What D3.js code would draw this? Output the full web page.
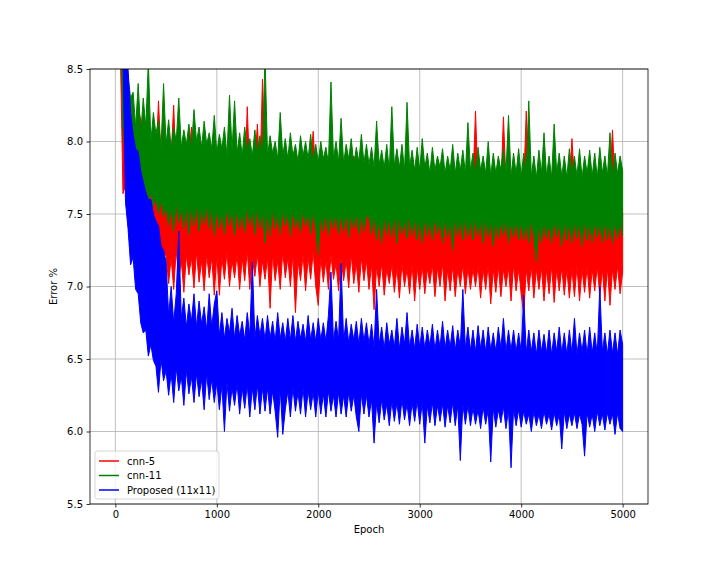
<!DOCTYPE html>
<html>
<head>
<meta charset="utf-8">
<script src="https://cdn.jsdelivr.net/npm/d3@7/dist/d3.min.js"></script>
<style>
  body { margin: 0; background: #fff; }
  svg { font-family: "DejaVu Sans", sans-serif; }
</style>
</head>
<body>
<div id="chart"></div>
<script>
// the curves are very noisy: for every 25 epochs (0, 25, ... 5000) the
// lowest and highest value of each curve is read off the picture
var epochStep = 25;

var cnn5Low = [
    9.5, 9.0, 8.6, 7.64, 7.7, 7.45, 7.22, 7.3, 7.18, 7.25, 7.12, 7.22, 7.1, 7.2, 7.05, 7.2, 7.1, 7.18, 7.0, 7.2,
    7.22, 7.02, 7.2, 6.98, 7.25, 7.05, 7.18, 6.96, 7.22, 7.08, 7.2, 6.99, 7.24, 7.03, 7.18, 6.97, 7.22, 7.06, 7.2, 6.94,
    7.22, 6.94, 7.2, 7.05, 7.24, 7.0, 7.18, 7.06, 7.22, 6.98, 7.2, 7.04, 7.25, 6.98, 7.2, 7.07, 7.22, 7.0, 7.18, 7.05,
    7.2, 6.85, 7.22, 7.04, 7.18, 6.98, 7.24, 7.06, 7.2, 7.0, 7.22, 6.82, 7.18, 7.04, 7.22, 6.97, 7.2, 7.05, 7.24, 7.0,
    6.87, 7.2, 7.03, 7.18, 6.98, 7.22, 7.05, 7.16, 6.97, 7.2, 7.04, 7.18, 6.99, 7.22, 7.02, 7.16, 6.96, 7.2, 7.04, 7.18,
    6.98, 7.15, 6.84, 7.14, 7.0, 7.16, 6.94, 7.12, 7.02, 7.15, 6.96, 7.13, 6.92, 7.16, 7.0, 7.12, 6.95, 7.15, 6.9, 7.13,
    6.98, 7.14, 6.95, 7.12, 7.02, 7.15, 6.93, 7.13, 7.0, 7.16, 6.9, 7.12, 6.97, 7.14, 6.93, 7.12, 7.0, 7.15, 6.95, 7.13,
    6.98, 7.12, 7.0, 7.14, 6.92, 7.12, 6.98, 7.15, 6.88, 7.12, 6.96, 7.14, 6.93, 7.12, 7.0, 7.13, 6.9, 7.15, 6.97, 7.12,
    6.95, 6.81, 7.12, 6.97, 7.14, 6.92, 7.12, 6.98, 7.13, 6.9, 7.12, 6.95, 7.14, 6.89, 7.12, 6.97, 7.13, 6.94, 7.12, 6.92,
    7.12, 6.93, 7.14, 6.9, 7.12, 6.96, 7.13, 6.92, 7.12, 6.97, 7.14, 6.93, 7.12, 6.9, 7.13, 6.87, 7.12, 6.98, 7.14, 6.95,
    7.1
];
var cnn5High = [
    10.0, 9.5, 9.0, 8.3, 8.6, 8.25, 8.2, 8.1, 8.0, 8.22, 8.15, 8.0, 7.95, 8.05, 7.9, 8.0, 7.85, 8.28, 7.9, 7.85,
    7.85, 7.8, 7.9, 8.25, 7.75, 7.85, 7.8, 7.9, 7.7, 7.85, 8.1, 7.75, 7.8, 7.7, 7.85, 7.75, 7.8, 7.9, 7.7, 7.8,
    7.75, 7.8, 7.7, 7.85, 7.75, 7.95, 7.8, 7.7, 7.75, 7.85, 7.8, 7.7, 8.24, 7.75, 7.8, 7.85, 8.12, 7.75, 8.43, 7.8,
    7.8, 7.7, 7.85, 7.75, 7.9, 7.8, 7.7, 7.85, 7.75, 7.8, 7.9, 7.7, 7.8, 7.75, 7.85, 7.8, 7.7, 7.85, 8.07, 7.75,
    7.75, 7.8, 7.7, 7.85, 7.75, 7.8, 7.9, 7.7, 7.8, 7.75, 7.85, 7.7, 7.8, 7.75, 7.9, 7.8, 7.7, 7.85, 7.75, 7.8,
    7.7, 7.72, 7.68, 7.75, 7.7, 7.72, 7.68, 7.75, 7.72, 7.7, 7.75, 7.68, 7.72, 7.7, 7.75, 7.68, 7.72, 7.7, 7.75, 7.68,
    7.72, 7.68, 7.75, 7.7, 7.72, 7.68, 7.75, 7.7, 7.72, 7.75, 7.68, 7.7, 7.72, 7.75, 7.68, 7.72, 7.7, 7.75, 7.68, 7.72,
    7.7, 7.72, 8.21, 7.68, 7.75, 7.7, 7.72, 7.68, 7.75, 7.7, 7.72, 7.75, 7.68, 8.17, 7.72, 7.7, 7.75, 7.68, 7.72, 7.7,
    7.72, 7.7, 8.21, 7.68, 7.75, 7.72, 7.7, 7.75, 7.68, 7.72, 7.7, 7.75, 7.72, 7.68, 7.75, 7.7, 7.72, 7.68, 7.75, 7.7,
    8.02, 7.72, 7.68, 7.75, 7.7, 7.72, 7.68, 7.75, 7.7, 7.72, 7.68, 7.75, 7.7, 7.72, 7.68, 7.75, 8.08, 7.7, 7.72, 7.68,
    7.5
];

var cnn11Low = [
    9.8, 9.4, 8.9, 8.1, 7.85, 7.75, 7.7, 7.65, 7.72, 7.62, 7.7, 7.6, 7.68, 7.58, 7.65, 7.55, 7.62, 7.5, 7.6, 7.48,
    7.56, 7.42, 7.55, 7.38, 7.58, 7.44, 7.54, 7.4, 7.56, 7.36, 7.55, 7.42, 7.57, 7.38, 7.54, 7.43, 7.56, 7.4, 7.55, 7.35,
    7.54, 7.4, 7.52, 7.36, 7.55, 7.42, 7.53, 7.35, 7.54, 7.4, 7.52, 7.37, 7.55, 7.42, 7.53, 7.36, 7.54, 7.4, 7.52, 7.3,
    7.52, 7.35, 7.54, 7.4, 7.5, 7.36, 7.53, 7.42, 7.51, 7.35, 7.54, 7.4, 7.5, 7.37, 7.53, 7.42, 7.51, 7.36, 7.52, 7.4,
    7.22, 7.5, 7.38, 7.52, 7.35, 7.5, 7.4, 7.51, 7.36, 7.5, 7.38, 7.52, 7.34, 7.5, 7.4, 7.51, 7.36, 7.5, 7.38, 7.49,
    7.48, 7.36, 7.5, 7.32, 7.47, 7.3, 7.49, 7.36, 7.47, 7.34, 7.5, 7.3, 7.48, 7.36, 7.47, 7.33, 7.49, 7.35, 7.47, 7.32,
    7.47, 7.3, 7.48, 7.35, 7.46, 7.32, 7.48, 7.36, 7.46, 7.3, 7.47, 7.34, 7.46, 7.25, 7.48, 7.35, 7.46, 7.32, 7.47, 7.34,
    7.46, 7.32, 7.47, 7.35, 7.45, 7.3, 7.47, 7.34, 7.45, 7.28, 7.46, 7.33, 7.45, 7.35, 7.47, 7.3, 7.45, 7.34, 7.46, 7.32,
    7.45, 7.32, 7.44, 7.3, 7.46, 7.34, 7.17, 7.44, 7.3, 7.45, 7.33, 7.44, 7.3, 7.46, 7.34, 7.44, 7.28, 7.45, 7.32, 7.44,
    7.3, 7.45, 7.33, 7.44, 7.28, 7.46, 7.32, 7.44, 7.3, 7.45, 7.34, 7.44, 7.3, 7.46, 7.32, 7.44, 7.3, 7.45, 7.33, 7.44,
    7.35
];
var cnn11High = [
    10.8, 10.2, 9.5, 8.9, 8.6, 8.45, 8.3, 8.34, 8.1, 8.4, 8.05, 8.3, 8.1, 8.55, 8.0, 8.2, 8.05, 8.15, 7.95, 8.4,
    7.98, 8.15, 7.95, 8.1, 8.0, 8.3, 7.96, 8.08, 7.98, 8.12, 7.95, 8.22, 8.0, 8.1, 7.96, 8.14, 7.98, 8.06, 7.95, 8.18,
    7.92, 8.05, 7.95, 8.1, 7.9, 8.32, 7.94, 8.28, 7.92, 8.06, 7.9, 8.1, 7.94, 8.02, 7.9, 8.08, 7.92, 8.04, 7.9, 8.6,
    7.9, 8.04, 7.92, 8.0, 7.88, 8.2, 7.9, 8.02, 7.88, 8.06, 7.9, 7.98, 7.86, 8.04, 7.9, 8.0, 7.88, 8.05, 7.86, 7.98,
    7.86, 8.0, 7.88, 7.96, 7.85, 8.41, 7.88, 8.0, 7.86, 8.16, 7.85, 7.98, 7.88, 8.02, 7.84, 7.96, 7.86, 8.05, 7.85, 7.98,
    7.84, 7.96, 7.82, 8.14, 7.84, 7.94, 7.82, 7.98, 7.8, 8.24, 7.83, 7.95, 7.82, 7.98, 7.8, 8.27, 7.82, 7.94, 7.8, 7.96,
    7.8, 8.02, 7.82, 7.92, 7.78, 7.96, 7.8, 7.9, 7.82, 7.95, 7.78, 7.9, 7.8, 7.98, 7.78, 7.92, 7.8, 7.94, 7.78, 8.13,
    7.8, 7.92, 7.78, 7.96, 7.8, 7.9, 7.78, 8.0, 7.76, 7.92, 7.78, 7.9, 7.8, 7.95, 7.78, 8.18, 7.76, 7.92, 7.78, 7.95,
    7.76, 7.92, 7.78, 8.28, 7.76, 7.9, 7.75, 7.94, 7.78, 8.06, 7.76, 7.9, 7.75, 8.12, 7.78, 7.92, 7.76, 7.9, 7.75, 7.95,
    7.78, 7.9, 7.76, 7.95, 7.75, 7.9, 7.78, 7.94, 7.76, 7.92, 7.75, 7.96, 7.78, 7.9, 7.76, 8.06, 7.75, 7.92, 7.78, 7.9,
    7.8
];

var proposedLow = [
    10.0, 9.5, 9.0, 8.6, 7.58, 7.4, 7.15, 7.2, 6.98, 6.95, 6.75, 6.68, 6.7, 6.52, 6.6, 6.49, 6.45, 6.27, 6.5, 6.35,
    6.42, 6.25, 6.4, 6.2, 6.44, 6.28, 6.38, 6.18, 6.42, 6.26, 6.38, 6.2, 6.4, 6.24, 6.36, 6.15, 6.4, 6.22, 6.36, 6.2,
    6.34, 6.15, 6.32, 6.0, 6.34, 6.14, 6.3, 6.18, 6.33, 6.12, 6.3, 6.16, 6.32, 6.1, 6.3, 6.15, 6.32, 6.12, 6.3, 6.14,
    6.3, 6.12, 6.28, 6.14, 5.96, 6.3, 5.98, 6.15, 6.28, 6.1, 6.3, 6.14, 6.27, 6.12, 6.3, 6.1, 6.28, 6.15, 6.27, 6.1,
    6.28, 6.12, 6.26, 6.1, 6.28, 6.14, 6.25, 6.1, 6.27, 6.12, 6.25, 6.1, 6.27, 6.14, 6.25, 6.1, 6.0, 6.26, 6.12, 6.25,
    6.1, 6.22, 5.92, 6.2, 6.06, 6.22, 6.08, 6.19, 6.04, 6.21, 6.07, 6.2, 6.05, 6.22, 6.08, 6.19, 6.04, 6.2, 6.07, 6.21,
    6.05, 6.2, 5.92, 6.18, 6.06, 6.2, 6.04, 6.18, 6.07, 6.19, 6.03, 6.18, 6.06, 6.2, 6.04, 6.18, 5.8, 6.19, 6.05, 6.18,
    6.04, 6.16, 6.05, 6.15, 6.02, 6.17, 6.05, 6.15, 5.79, 6.16, 6.03, 6.15, 6.06, 6.17, 6.02, 6.15, 5.75, 6.16, 6.04, 6.15,
    6.03, 6.14, 6.05, 6.12, 6.0, 6.14, 6.04, 6.12, 6.02, 6.14, 6.05, 6.12, 6.01, 6.13, 6.04, 6.12, 5.88, 6.14, 6.02, 6.12,
    6.04, 6.13, 6.02, 6.12, 6.05, 5.83, 6.13, 6.03, 6.12, 6.0, 6.14, 6.04, 6.12, 6.01, 6.13, 6.05, 6.12, 5.98, 6.13, 6.02,
    6.0
];
var proposedHigh = [
    11.0, 10.5, 9.8, 9.0, 8.7, 8.5, 8.2, 8.05, 7.95, 7.93, 7.8, 7.72, 7.65, 7.6, 7.6, 7.5, 7.45, 7.42, 7.28, 7.25,
    7.17, 6.8, 7.0, 6.75, 6.95, 7.38, 6.78, 6.92, 6.72, 6.88, 6.76, 6.95, 6.72, 6.9, 6.74, 6.86, 6.7, 6.95, 6.72, 6.88,
    6.97, 6.66, 6.82, 6.64, 6.78, 6.68, 6.85, 6.64, 6.8, 6.66, 6.76, 6.63, 6.82, 6.66, 7.17, 6.64, 6.8, 6.66, 6.78, 6.63,
    6.8, 6.64, 6.76, 6.62, 6.82, 6.64, 6.75, 6.62, 6.78, 6.63, 6.8, 6.62, 6.76, 6.64, 6.74, 6.62, 6.8, 6.63, 6.75, 6.62,
    6.78, 6.63, 6.75, 6.62, 6.8, 7.1, 6.62, 6.76, 6.63, 7.16, 6.62, 6.78, 6.61, 6.74, 6.63, 6.76, 6.6, 6.78, 6.62, 6.75,
    6.6, 6.74, 6.58, 6.98, 6.6, 6.72, 6.57, 6.75, 6.6, 6.7, 6.58, 6.78, 6.57, 6.72, 6.6, 6.82, 6.58, 6.7, 6.57, 6.74,
    6.58, 6.72, 6.57, 6.7, 6.59, 6.74, 6.56, 6.7, 6.58, 6.76, 6.57, 6.7, 6.58, 6.73, 6.56, 6.7, 6.58, 6.98, 6.57, 6.72,
    6.56, 6.7, 6.55, 6.73, 6.57, 6.7, 6.55, 6.72, 6.56, 6.68, 6.55, 6.72, 6.57, 6.78, 6.55, 6.7, 6.56, 6.7, 6.55, 6.68,
    6.55, 6.94, 6.54, 6.7, 6.55, 6.68, 6.53, 6.7, 6.55, 6.67, 6.54, 6.7, 6.53, 6.68, 6.55, 6.72, 6.54, 6.68, 6.53, 6.7,
    6.54, 6.78, 6.53, 6.68, 6.55, 6.7, 6.53, 6.72, 6.54, 6.68, 6.53, 7.0, 6.55, 6.68, 6.53, 6.7, 6.54, 6.68, 6.53, 6.7,
    6.6
];

var seriesNames = ["cnn-5", "cnn-11", "Proposed (11x11)"];
var seriesColors = ["#ff0000", "#008000", "#0000ff"];
var xTicks = [0, 1000, 2000, 3000, 4000, 5000];
var yTicks = [5.5, 6.0, 6.5, 7.0, 7.5, 8.0, 8.5];

(function () {
    'use strict';
    var width = 720,
        height = 576,
        margin = {top: 69, right: 72, bottom: 72, left: 90},
        plotW = width - margin.left - margin.right,
        plotH = height - margin.top - margin.bottom,
        bands = [
            d3.zip(cnn5Low, cnn5High),
            d3.zip(cnn11Low, cnn11High),
            d3.zip(proposedLow, proposedHigh)
        ],
        svg = d3.select("#chart").append("svg")
            .attr("width", width)
            .attr("height", height),
        g = svg.append("g")
            .attr("transform", "translate(" + margin.left + "," + margin.top + ")"),
        x = d3.scaleLinear().domain([-250, 5250]).range([0, plotW]),
        y = d3.scaleLinear().domain([5.5, 8.5]).range([plotH, 0]),
        area = d3.area()
            .x(function (d, i) { return x(i * epochStep); })
            .y0(function (d) { return y(d[0]); })
            .y1(function (d) { return y(d[1]); });

    svg.append("defs").append("clipPath")
        .attr("id", "plotClip")
        .append("rect")
        .attr("width", plotW)
        .attr("height", plotH);

    // grid
    g.append("g").selectAll("line")
        .data(xTicks)
        .enter()
        .append("line")
        .attr("x1", function (d) { return x(d); })
        .attr("x2", function (d) { return x(d); })
        .attr("y1", 0)
        .attr("y2", plotH)
        .style("stroke", "#b0b0b0")
        .style("stroke-width", "0.8px");

    g.append("g").selectAll("line")
        .data(yTicks)
        .enter()
        .append("line")
        .attr("x1", 0)
        .attr("x2", plotW)
        .attr("y1", function (d) { return y(d); })
        .attr("y2", function (d) { return y(d); })
        .style("stroke", "#b0b0b0")
        .style("stroke-width", "0.8px");

    // each noisy curve drawn as the band it fills
    g.append("g")
        .attr("clip-path", "url(#plotClip)")
        .selectAll("path")
        .data(bands)
        .enter()
        .append("path")
        .attr("d", area)
        .style("fill", function (d, i) { return seriesColors[i]; })
        .style("stroke", function (d, i) { return seriesColors[i]; })
        .style("stroke-width", "1px")
        .style("stroke-linejoin", "miter");

    var xAxis = g.append("g")
        .attr("transform", "translate(0," + plotH + ")")
        .call(d3.axisBottom(x).tickValues(xTicks).tickSize(3.5).tickPadding(3.5)
            .tickFormat(d3.format("d")));
    var yAxis = g.append("g")
        .call(d3.axisLeft(y).tickValues(yTicks).tickSize(3.5).tickPadding(3.5)
            .tickFormat(d3.format(".1f")));

    [xAxis, yAxis].forEach(function (ax) {
        ax.select(".domain").remove();
        ax.selectAll("text")
            .style("font-family", "DejaVu Sans")
            .style("font-size", "10px")
            .style("fill", "#000");
        ax.selectAll("line").style("stroke", "#000").style("stroke-width", "0.8px");
    });

    // frame
    g.append("rect")
        .attr("width", plotW)
        .attr("height", plotH)
        .style("fill", "none")
        .style("stroke", "#000")
        .style("stroke-width", "0.8px");

    g.append("text")
        .attr("x", plotW / 2)
        .attr("y", plotH + 29)
        .attr("text-anchor", "middle")
        .style("font-size", "10px")
        .text("Epoch");

    g.append("text")
        .attr("transform", "translate(-33," + (plotH / 2) + ") rotate(-90)")
        .attr("text-anchor", "middle")
        .style("font-size", "10px")
        .text("Error %");

    // legend, lower left
    var legend = g.append("g")
        .attr("transform", "translate(5," + (plotH - 53) + ")");

    legend.append("rect")
        .attr("width", 124)
        .attr("height", 48)
        .attr("rx", 2.5)
        .style("fill", "#fff")
        .style("fill-opacity", 0.8)
        .style("stroke", "#cccccc")
        .style("stroke-width", "0.8px");

    var item = legend.selectAll("g")
        .data(seriesNames)
        .enter()
        .append("g")
        .attr("transform", function (d, i) {
            return "translate(0," + (10 + i * 14.5) + ")";
        });

    item.append("line")
        .attr("x1", 4)
        .attr("x2", 24)
        .style("stroke", function (d, i) { return seriesColors[i]; })
        .style("stroke-width", "1.5px");

    item.append("text")
        .attr("x", 32)
        .attr("dy", "0.35em")
        .style("font-size", "10px")
        .text(function (d) { return d; });
}());
</script>
</body>
</html>
